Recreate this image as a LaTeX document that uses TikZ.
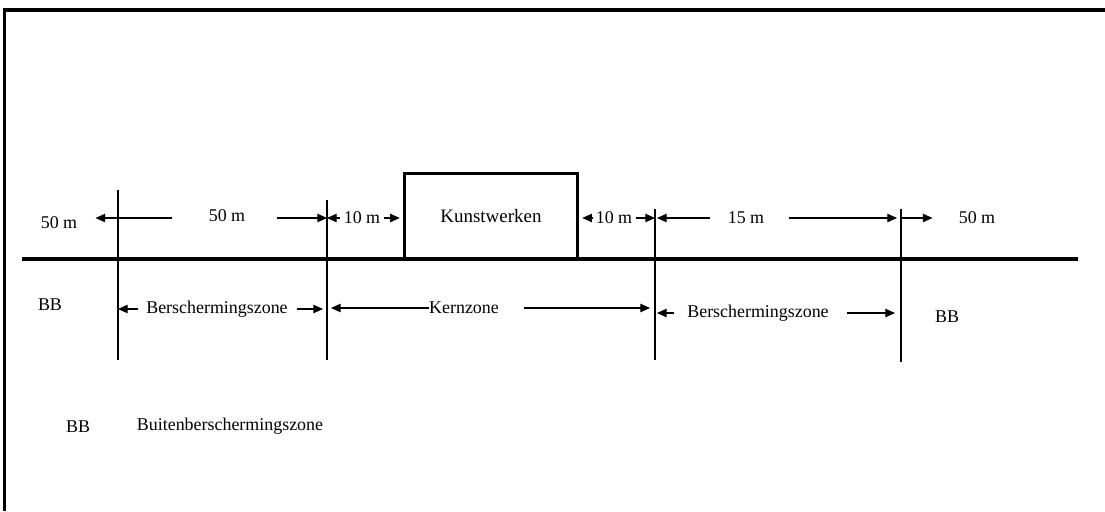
\documentclass[tikz,border=0pt]{standalone}
\usepackage{fontspec}
\setmainfont{Liberation Serif}
\usetikzlibrary{arrows.meta,calc}

\begin{document}
\begin{tikzpicture}[x=0.02cm, y=-0.02cm,
	heavy/.style={line width=2pt},
	mark line/.style={line width=0.6pt},
	dim/.style={line width=0.6pt, -{Triangle[length=5.5pt,width=4.8pt]}},
	lbl/.style={font=\fontsize{10.2}{12}\selectfont, inner sep=0pt},
	work/.style={draw, line width=2pt, minimum width=3.46cm, minimum height=1.7cm,
		font=\fontsize{10.8}{12}\selectfont}]
	
	\useasboundingbox (0,0) rectangle (1105,511);
	
	% frame and ground
	\coordinate (f1) at (4.5,511);
	\coordinate (f2) at (4.5,10);
	\coordinate (f3) at (1105,10);
	\draw[heavy] (f1) -- (f2) -- (f3);
	\coordinate (g1) at (22,259);
	\coordinate (g2) at (1078,259);
	\draw[heavy] (g1) -- (g2);
	
	% zone borders
	\coordinate (v1) at (118,190);  \coordinate (v1b) at (118,360);
	\coordinate (v2) at (327,200);  \coordinate (v2b) at (327,360);
	\coordinate (v3) at (655,209);  \coordinate (v3b) at (655,360);
	\coordinate (v4) at (901,209);  \coordinate (v4b) at (901,362);
	\foreach \v in {v1,v2,v3,v4}
		\draw[mark line] (\v) -- (\v b);
	
	\node[work] (kw) at (491,216) {Kunstwerken};
	
	% distances above ground
	\node[lbl] (dL) at (59,223) {50 m};
	\node[lbl] (m50) at (227,216) {50 m};
	\node[lbl, inner xsep=2pt] (t10a) at (362,218) {10 m};
	\node[lbl, inner xsep=2pt] (t10b) at (614,218) {10 m};
	\node[lbl] (m15) at (746,218) {15 m};
	\node[lbl] (dR) at (977,218) {50 m};
	
	\draw[dim] (v1 |- t10a) -- ($(dL.east |- t10a)+(18,0)$);
	\draw[mark line] (v1 |- t10a) -- ($(m50.west |- t10a)+(-36,0)$);
	\draw[dim] ($(m50.east |- t10a)+(31,0)$) -- (v2 |- t10a);
	\draw[dim] (t10a.west) -- (v2 |- t10a);
	\draw[dim] (t10a.east) -- ($(kw.west |- t10a)+(-3,0)$);
	\draw[dim] (t10b.west) -- ($(kw.east |- t10b)+(3,0)$);
	\draw[dim] (t10b.east) -- (v3 |- t10b);
	\draw[dim] ($(m15.west)+(-17,0)$) -- ($(v3 |- m15)+(2,0)$);
	\draw[dim] ($(m15.east)+(24,0)$) -- ($(v4 |- m15)+(-4,0)$);
	\draw[dim] (v4 |- m15) -- ($(dR.west)+(-26,0)$);
	
	% zones below ground
	\node[lbl] (bbL) at (50,305) {BB};
	\node[lbl] (z1) at (217,309) {Berschermingszone};
	\node[lbl] (kz) at (464,308) {Kernzone};
	\node[lbl] (z2) at (758,313) {Berschermingszone};
	\node[lbl] (bbR) at (947,317) {BB};
	
	\draw[dim] ($(z1.west)+(-8,0)$) -- (v1 |- z1);
	\draw[dim] ($(z1.east)+(9,0)$) -- ($(v2 |- z1)+(-4,0)$);
	\draw[dim] (kz.west) -- ($(v2 |- kz)+(4,0)$);
	\draw[dim] ($(kz.east)+(25,0)$) -- ($(v3 |- kz)+(-5,0)$);
	\draw[dim] ($(z2.west)+(-13,0)$) -- ($(v3 |- z2)+(2,0)$);
	\draw[dim] ($(z2.east)+(18,0)$) -- ($(v4 |- z2)+(-6,0)$);
	
	% legend
	\node[lbl] (bbB) at (78,427) {BB};
	\node[lbl] (bz) at (230,426) {Buitenberschermingszone};
	
\end{tikzpicture}
\end{document}
